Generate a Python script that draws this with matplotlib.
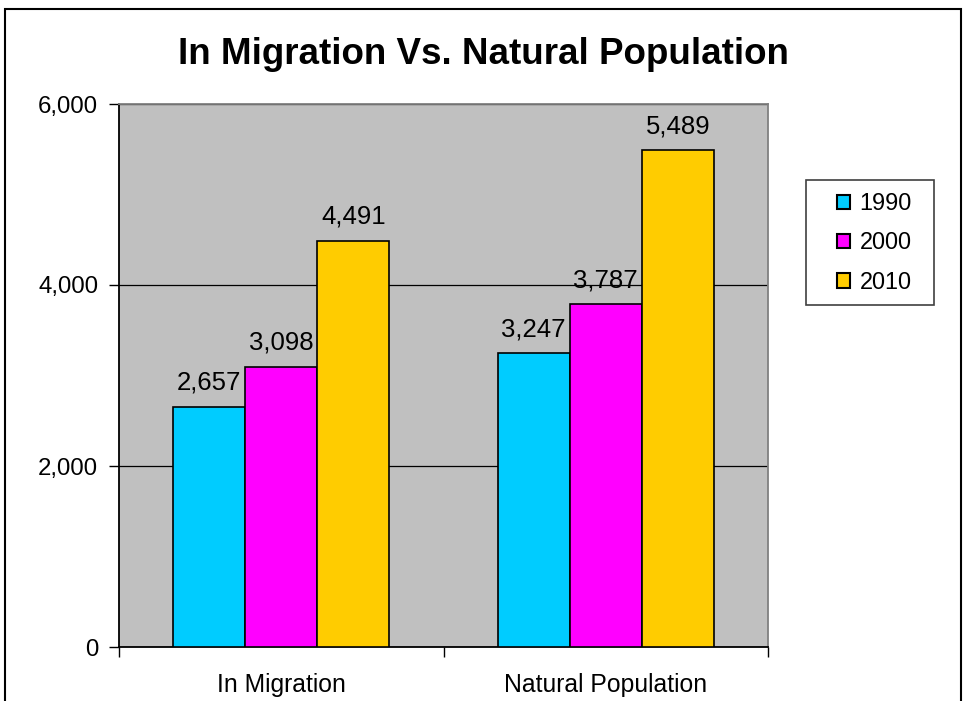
# In Migration vs Natural Population bar chart

import matplotlib
matplotlib.use("Agg")
import matplotlib.pyplot as plt
import numpy as np
from matplotlib.patches import Rectangle

plt.rcParams['font.family'] = ['Liberation Sans', 'DejaVu Sans']

# data
categories = ["In Migration", "Natural Population"]
years = ["1990", "2000", "2010"]
values_1990 = [2657, 3247]
values_2000 = [3098, 3787]
values_2010 = [4491, 5489]
colors = ["#00CCFF", "#FF00FF", "#FFCC00"]

fig = plt.figure(figsize=(9.64, 7.01), dpi=100)
ax = fig.add_axes([119/964, 1 - 647/701, (768 - 119)/964, (647 - 104)/701])
ax.set_facecolor("#C0C0C0")

x = np.arange(len(categories))
width = 0.222
series = [values_1990, values_2000, values_2010]
for i, vals in enumerate(series):
    bars = ax.bar(x + (i - 1) * width, vals, width, color=colors[i],
                  edgecolor="black", linewidth=1.2, label=years[i], zorder=3)
    for b, v in zip(bars, vals):
        ax.annotate(f"{v:,}", (b.get_x() + b.get_width() / 2, v),
                    xytext=(0, 12), textcoords="offset points",
                    ha="center", va="baseline", fontsize=18.5)

ax.set_xlim(-0.5, 1.5)
ax.set_ylim(0, 6000)
ax.set_yticks([0, 2000, 4000, 6000])
ax.set_yticklabels([f"{t:,}" for t in [0, 2000, 4000, 6000]], fontsize=17.3)
ax.yaxis.grid(True, color="black", linewidth=0.9, zorder=1)
ax.set_axisbelow(True)

# category ticks at group boundaries, labels in the middle
ax.set_xticks([-0.5, 0.5, 1.5])
ax.set_xticklabels([])
ax.set_xticks(x, minor=True)
ax.set_xticklabels(categories, minor=True, fontsize=17.8)
ax.tick_params(axis="x", which="minor", length=0, pad=19)
ax.tick_params(axis="x", which="major", length=7, width=1, direction="out")
ax.tick_params(axis="y", length=7, width=1, direction="out", pad=8)

ax.spines["left"].set_color("black")
ax.spines["bottom"].set_color("black")
ax.spines["top"].set_color("#808080")
ax.spines["right"].set_color("#808080")
for s in ax.spines.values():
    s.set_linewidth(1.3)

fig.text(483/964, 1 - 54/701, "In Migration Vs. Natural Population",
         ha="center", va="center", fontsize=26.5, fontweight="bold")

# legend without its own frame, box drawn separately
leg = ax.legend(loc="upper left", bbox_to_anchor=(837/964, 1 - 192/701),
                bbox_transform=fig.transFigure, fontsize=16.9, frameon=False,
                handlelength=0.56, handleheight=0.56, handletextpad=0.4,
                labelspacing=0.7, borderpad=0, borderaxespad=0)
for h in leg.legend_handles:
    h.set_linewidth(1.5)
fig.patches.append(Rectangle((806/964, 1 - 305/701), 128/964, 125/701,
                             transform=fig.transFigure, fill=False,
                             edgecolor="#404040", linewidth=1.2))

# outer chart border
fig.patches.append(Rectangle((5/964, -0.02), 956/964, 1 - 9/701 + 0.02,
                             transform=fig.transFigure, fill=False,
                             edgecolor="black", linewidth=1.5))

plt.savefig("out.png", dpi=100)
